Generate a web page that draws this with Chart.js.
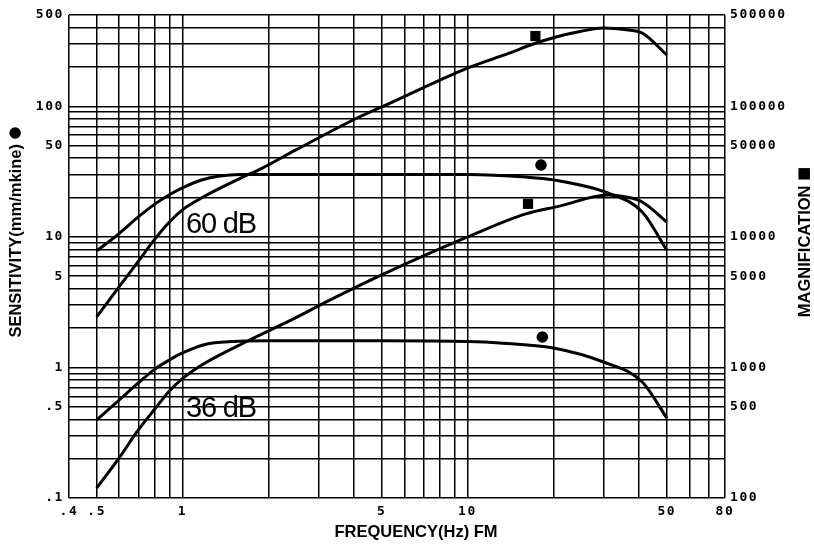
<html>
<head>
<style>
  body { margin: 0; background: #fff; }
  canvas { display: block; }
</style>
<script src="https://cdn.jsdelivr.net/npm/chart.js"></script>
</head>
<body>
<canvas id="chart" width="814" height="545"></canvas>
<script>
// --- data ---
// 60 dB pair
var sens60Freq = [0.5, 0.6, 0.7, 0.8, 0.9, 1, 1.15, 1.35, 1.6, 5, 10, 16, 20, 31, 41, 50];
var sens60 = [7.8, 10.6, 14.2, 17.8, 21.0, 23.7, 27.0, 29.2, 30, 30, 30, 28.7, 27.3, 21.7, 15.5, 7.9];
var mag60Freq = [0.5, 0.6, 0.7, 0.8, 0.9, 1, 1.15, 1.35, 1.6, 1.9, 2.5, 4.1, 5, 10, 14, 17, 20, 25, 30, 36, 41, 50];
var mag60 = [2440, 4150, 6500, 9600, 13000, 16100, 19500, 23500, 28200, 33500, 46300, 81300, 98800, 196000, 255000, 300000, 335000, 375000, 398000, 385000, 364000, 247000];
// 36 dB pair
var sens36Freq = [0.5, 0.6, 0.7, 0.8, 0.9, 1, 1.2, 1.5, 2, 5, 10, 13, 20, 30, 41, 50];
var sens36 = [0.396, 0.563, 0.76, 0.97, 1.14, 1.29, 1.5, 1.58, 1.6, 1.6, 1.58, 1.54, 1.41, 1.10, 0.774, 0.41];
var mag36Freq = [0.5, 0.6, 0.7, 0.8, 0.9, 1, 1.2, 1.7, 2.4, 3.3, 5, 10, 16, 21, 31, 36, 41, 50];
var mag36 = [119, 203, 332, 480, 660, 820, 1080, 1600, 2300, 3290, 5110, 9980, 15000, 17200, 20900, 20200, 18500, 13000];

// marker symbols next to the curves
var circleFreq = [18.1, 18.3];
var circleSens = [35.5, 1.71];
var squareFreq = [17.3, 16.3];
var squareMag = [345000, 17900];

// curve labels
var noteText = ['60 dB', '36 dB'];
var noteFreq = [1.03, 1.03];
var noteSens = [10.7, 0.418];

// axes
var xMin = 0.4, xMax = 80;
var xTickValues = [0.4, 0.5, 1, 5, 10, 50, 80];
var xTickLabels = ['.4', '.5', '1', '5', '10', '50', '80'];
var leftMin = 0.1, leftMax = 500;
var leftTickValues = [0.1, 0.5, 1, 5, 10, 50, 100, 500];
var leftTickLabels = ['.1', '.5', '1', '5', '10', '50', '100', '500'];
var rightMin = 100, rightMax = 500000;
var rightTickValues = [100, 500, 1000, 5000, 10000, 50000, 100000, 500000];
var rightTickLabels = ['100', '500', '1000', '5000', '10000', '50000', '100000', '500000'];

var xTitle = 'FREQUENCY(Hz) FM';
var leftTitle = 'SENSITIVITY(mm/mkine)';
var leftSymbol = '\u25CF';
var rightTitle = 'MAGNIFICATION';
var rightSymbol = '\u25A0';

// every 1..9 x 10^n step between min and max, for the grid
function gridSteps(min, max) {
    var out = [];
    for (var e = Math.floor(Math.log10(min)); e <= Math.ceil(Math.log10(max)); e++) {
        for (var m = 1; m <= 9; m++) {
            var v = Number((m * Math.pow(10, e)).toPrecision(6));
            if (v >= min - 1e-9 && v <= max + 1e-9) out.push(v);
        }
    }
    return out;
}

function pts(fs, vs) {
    return fs.map(function(f, i) { return {x: f, y: vs[i]}; });
}

function labelFor(values, labels) {
    return function(value) {
        for (var i = 0; i < values.length; i++) {
            if (Math.abs(value - values[i]) / values[i] < 1e-6) return labels[i];
        }
        return '';
    };
}

// rotated title + a bigger symbol after it, centred on (cx, cy)
function sideTitle(ctx, text, symbol, cx, cy) {
    ctx.save();
    ctx.translate(cx, cy);
    ctx.rotate(-Math.PI / 2);
    ctx.font = 'bold 16.5px "Liberation Sans", Arial, sans-serif';
    var w1 = ctx.measureText(text + ' ').width;
    ctx.font = '15px "DejaVu Sans", sans-serif';
    var w2 = ctx.measureText(symbol).width;
    var start = -(w1 + w2) / 2;
    ctx.textAlign = 'left';
    ctx.textBaseline = 'middle';
    ctx.font = 'bold 16.5px "Liberation Sans", Arial, sans-serif';
    ctx.fillText(text, start, 0);
    ctx.font = '15px "DejaVu Sans", sans-serif';
    ctx.fillText(symbol, start + w1, -1);
    ctx.restore();
}

var tickFont = {family: 'DejaVu Sans Mono', size: 13, weight: 'bold'};

var textPlugin = {
    id: 'texts',
    beforeDraw: function(chart) {
        chart.ctx.letterSpacing = '1.6px';
    },
    beforeDatasetsDraw: function(chart) {
        chart.ctx.letterSpacing = '0px';
    },
    afterDraw: function(chart) {
        var ctx = chart.ctx;
        var xs = chart.scales.x, ys = chart.scales.y;
        ctx.save();
        ctx.fillStyle = '#000';
        ctx.letterSpacing = '0px';
        // axis titles
        ctx.font = 'bold 16.5px "Liberation Sans", Arial, sans-serif';
        ctx.textAlign = 'center';
        ctx.textBaseline = 'middle';
        ctx.fillText(xTitle, 416, 532);

        sideTitle(ctx, leftTitle, leftSymbol, 16, 232);
        sideTitle(ctx, rightTitle, rightSymbol, 805, 242);

        // curve labels
        ctx.font = '29px "Liberation Sans", Arial, sans-serif';
        ctx.letterSpacing = '-1.2px';
        ctx.textAlign = 'left';
        ctx.textBaseline = 'alphabetic';
        for (var i = 0; i < noteText.length; i++) {
            ctx.fillText(noteText[i], xs.getPixelForValue(noteFreq[i]), ys.getPixelForValue(noteSens[i]));
        }
        ctx.restore();
    }
};

var lineStyle = {
    borderColor: '#000',
    borderWidth: 3,
    pointRadius: 0,
    fill: false,
    cubicInterpolationMode: 'monotone'
};

new Chart(document.getElementById('chart').getContext('2d'), {
    type: 'line',
    data: {
        datasets: [
            Object.assign({label: 'sens 60', data: pts(sens60Freq, sens60), yAxisID: 'y'}, lineStyle),
            Object.assign({label: 'mag 60', data: pts(mag60Freq, mag60), yAxisID: 'y1'}, lineStyle),
            Object.assign({label: 'sens 36', data: pts(sens36Freq, sens36), yAxisID: 'y'}, lineStyle),
            Object.assign({label: 'mag 36', data: pts(mag36Freq, mag36), yAxisID: 'y1'}, lineStyle),
            {
                type: 'scatter', label: 'circle', data: pts(circleFreq, circleSens), yAxisID: 'y',
                pointStyle: 'circle', pointRadius: 5.8, backgroundColor: '#000', borderColor: '#000', borderWidth: 0
            },
            {
                type: 'scatter', label: 'square', data: pts(squareFreq, squareMag), yAxisID: 'y1',
                pointStyle: 'rect', pointRadius: 7.2, backgroundColor: '#000', borderColor: '#000', borderWidth: 0
            }
        ]
    },
    options: {
        responsive: false,
        animation: false,
        devicePixelRatio: 1,
        layout: {padding: {top: 15, left: 0, right: 0, bottom: 0}},
        plugins: {legend: {display: false}, tooltip: {enabled: false}},
        scales: {
            x: {
                type: 'logarithmic',
                position: 'bottom',
                min: xMin, max: xMax,
                afterBuildTicks: function(scale) {
                    scale.ticks = gridSteps(xMin, xMax).map(function(v) { return {value: v}; });
                },
                afterFit: function(scale) { scale.height = 47; },
                grid: {color: '#000', lineWidth: 1.5, drawTicks: false},
                border: {display: false},
                ticks: {
                    autoSkip: false, maxRotation: 0, minRotation: 0, padding: 6,
                    color: '#000', font: tickFont,
                    callback: labelFor(xTickValues, xTickLabels)
                }
            },
            y: {
                type: 'logarithmic',
                position: 'left',
                min: leftMin, max: leftMax,
                afterBuildTicks: function(scale) {
                    scale.ticks = gridSteps(leftMin, leftMax).map(function(v) { return {value: v}; });
                },
                afterFit: function(scale) { scale.width = 69; },
                grid: {color: '#000', lineWidth: 1.5, drawTicks: false},
                border: {display: false},
                ticks: {
                    autoSkip: false, padding: 5,
                    color: '#000', font: tickFont,
                    callback: labelFor(leftTickValues, leftTickLabels)
                }
            },
            y1: {
                type: 'logarithmic',
                position: 'right',
                min: rightMin, max: rightMax,
                afterBuildTicks: function(scale) {
                    scale.ticks = rightTickValues.map(function(v) { return {value: v}; });
                },
                afterFit: function(scale) { scale.width = 89; },
                grid: {display: false, drawTicks: false},
                border: {display: false},
                ticks: {
                    autoSkip: false, padding: 5,
                    color: '#000', font: tickFont,
                    callback: labelFor(rightTickValues, rightTickLabels)
                }
            }
        }
    },
    plugins: [textPlugin]
});
</script>
</body>
</html>
